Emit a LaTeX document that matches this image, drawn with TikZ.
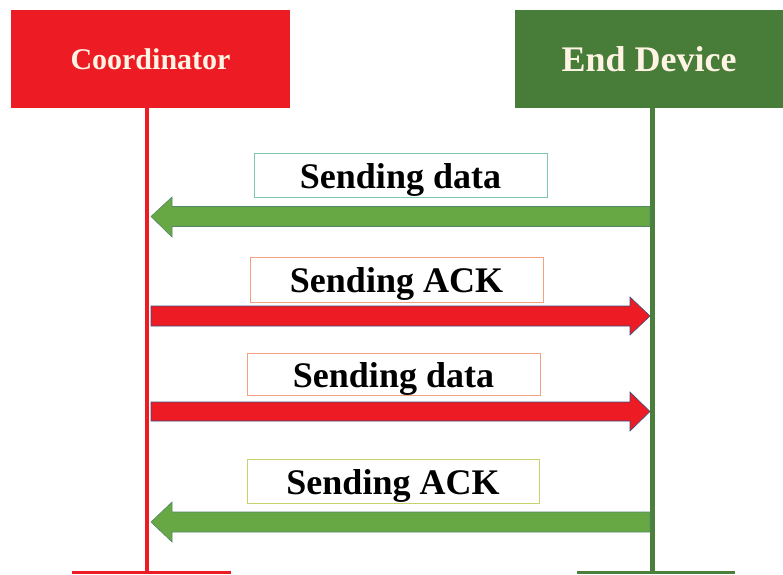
\documentclass[tikz,border=0pt]{standalone}
\usepackage{fontspec}
\setmainfont{Liberation Serif}
\usetikzlibrary{calc}
\definecolor{cred}{HTML}{ED1C24}
\definecolor{cgreenbox}{HTML}{477C39}
\definecolor{cgreenline}{HTML}{4B7F3C}
\definecolor{cgreenarrow}{HTML}{68A844}
\definecolor{ctext}{HTML}{FFF4E4}
\definecolor{cbordergreen}{HTML}{7CC8A8}
\definecolor{cbordersalmon}{HTML}{F4A080}
\definecolor{borderyel}{HTML}{C8D070}
\definecolor{carrowedge}{HTML}{3A4E80}
\tikzset{
  actor/.style={rectangle, inner sep=0pt, text=ctext, text height=24pt, text depth=0pt, font=\bfseries\fontsize{36}{40}\selectfont},
  msglabel/.style={rectangle, fill=white, line width=0.8pt, inner sep=0pt, text height=27pt, text depth=1pt, font=\bfseries\fontsize{36}{40}\selectfont, text=black},
  redlife/.style={draw=cred, line width=4.5pt},
  greenlife/.style={draw=cgreenline, line width=5pt},
  redarrow/.style={fill=cred, draw=carrowedge, line width=0.6pt, line join=miter},
  greenarrow/.style={fill=cgreenarrow, draw=cgreenarrow!80!blue, line width=0.6pt, line join=miter},
}
\begin{document}
\begin{tikzpicture}[x=1pt,y=-1pt]
\useasboundingbox (0,0) rectangle (783,574);
% actor boxes
\node[actor, fill=cred, minimum width=279pt, minimum height=98pt, font=\bfseries\fontsize{30}{34}\selectfont, text height=21pt] (coord) at (150.5,59) {Coordinator};
\node[actor, fill=cgreenbox, minimum width=268pt, minimum height=98pt] (dev) at (649,59) {End Device};
% lifelines
\coordinate (cbot) at (147,574);
\coordinate (dbot) at (652,574);
\draw[redlife] (coord.south -| cbot) -- (cbot);
\draw[greenlife] (dev.south -| dbot) -- (dbot);
% bottom ends
\draw[draw=cred, line width=2.5pt] (72,572.5) -- (231,572.5);
\draw[draw=cgreenline, line width=2.5pt] (577,572.5) -- (735,572.5);
% arrows (tail/tip on lifelines)
\draw[greenarrow] (650,206.5) -- (172,206.5) -- (172,197) -- (151,216.5) -- (172,237) -- (172,226.5) -- (650,226.5) -- cycle;
\draw[redarrow] (151,306) -- (630,306) -- (630,297) -- (650,316) -- (630,335) -- (630,326) -- (151,326) -- cycle;
\draw[redarrow] (151,402) -- (630,402) -- (630,392) -- (650,411.5) -- (630,431) -- (630,421) -- (151,421) -- cycle;
\draw[greenarrow] (650,512) -- (172,512) -- (172,502) -- (151,522) -- (172,542) -- (172,532) -- (650,532) -- cycle;
% labels
\node[msglabel, draw=cbordergreen, minimum width=293pt, minimum height=44pt] (m1) at (400.5,175) {Sending data};
\node[msglabel, draw=cbordersalmon, minimum width=293pt, minimum height=45pt] (m2) at (396.5,279.5) {Sending ACK};
\node[msglabel, draw=cbordersalmon, minimum width=293pt, minimum height=42pt] (m3) at (393.5,374) {Sending data};
\node[msglabel, draw=borderyel, minimum width=292pt, minimum height=44pt] (m4) at (393,481) {Sending ACK};
\end{tikzpicture}
\end{document}
